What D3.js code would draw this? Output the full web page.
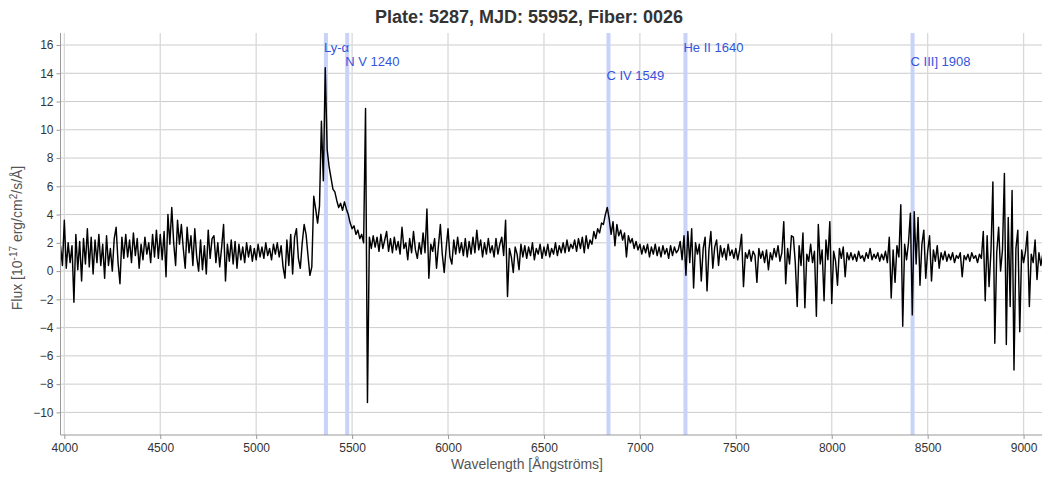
<!DOCTYPE html>
<html><head><meta charset="utf-8">
<script src="https://cdn.jsdelivr.net/npm/d3@7"></script>
<style>
body{margin:0;background:#fff}
text{font-family:"Liberation Sans",Arial,sans-serif}
</style>
</head><body>
<svg id="chart" width="1042" height="479"></svg>
<script>
const titleText = "Plate: 5287, MJD: 55952, Fiber: 0026";
const xTitle = "Wavelength [Ångströms]";
const waveStart = 3980;
const waveStep = 10;
const flux = [
  1.8, 0.4,
  3.6, 0.2, 2.0, 0.6, 1.8, -2.2, 2.6, 0.1, 2.1, -0.7,
  2.3, 0.5, 3.0, 0.3, 2.4, -0.2, 2.2, 0.6, 2.6, 0.4,
  1.9, -0.5, 2.5, 0.4, 1.6, 0.0, 2.3, 3.1, 0.6, -0.9,
  2.4, 0.9, 2.6, 1.0, 2.2, 0.6, 2.7, 1.1, 2.3, 0.2,
  1.9, 0.8, 2.4, 1.2, 2.0, 0.6, 2.6, 1.0, 2.9, 0.9,
  2.6, 0.8, 2.8, -0.4, 4.0, 1.9, 4.5, 2.0, 0.4, 3.6,
  1.9, 3.3, 1.6, 0.2, 3.1, 1.3, 2.5, 0.4, 3.0, 1.0,
  0.0, 2.2, 0.1, 1.8, -0.2, 2.9, 0.9, 2.3, 2.5, 0.6,
  2.0, 0.3, 1.7, 3.3, -0.7, 1.9, 0.7, 2.2, 0.5, 2.1,
  0.2, 1.9, 0.8, 1.7, 0.6, 2.0, 1.0, 1.8, 0.7, 1.6,
  0.8, 1.9, 1.0, 1.7, 0.9, 2.0, 1.1, 1.6, 0.8, 1.9,
  1.2, 2.0, 1.0, 1.8, 0.3, -0.5, 2.2, 0.4, 2.6, -0.2,
  2.4, 3.0, 0.9, 0.2, 2.0, 3.3, 2.6, 1.1, -0.3, 0.3,
  5.3, 4.4, 3.4, 4.6, 10.6, 6.4, 14.4, 8.6, 7.4, 6.6,
  5.8, 5.6, 5.0, 4.5, 4.8, 4.3, 4.9, 4.4, 4.0, 3.4,
  3.0, 3.2, 2.6, 2.9, 2.3, 2.6, 2.0, 11.5, -9.3, 2.4,
  1.6, 2.5, 1.7, 2.4, 1.4, 2.6, 1.6, 2.2, 2.8, 1.4,
  2.3, 1.3, 2.4, 1.5, 2.1, 1.2, 3.1, 1.6, 2.0, 0.8,
  2.3, 1.3, 2.8, 1.5, 0.9, 2.0, 1.2, 2.7, 1.3, 4.4,
  -0.5, 1.9, 1.4, 2.3, 0.2, 1.8, 3.3, 1.2, -0.1, 1.6,
  3.0, 1.0, 0.5, 2.2, 1.2, 2.4, 1.3, 2.0, 1.1, 2.3,
  1.0, 2.1, 1.2, 2.4, 1.3, 2.9, 1.5, 2.2, 1.0, 2.0,
  1.2, 2.3, 1.3, 1.8, 1.0, 2.3, 1.2, 1.9, 2.4, 1.1,
  3.6, -1.8, 1.6, 1.0, -0.1, 1.7, 1.2, 0.1, 1.9, 1.0,
  1.8, 0.9, 1.7, 1.1, 2.0, 0.8, 1.6, 1.2, 1.9, 0.9,
  1.7, 1.1, 1.9, 1.0, 1.6, 1.2, 2.0, 1.1, 1.8, 1.3,
  2.0, 1.3, 2.2, 1.4, 1.9, 1.6, 2.2, 1.4, 2.3, 1.6,
  2.4, 1.3, 2.5, 1.6, 2.2, 1.9, 2.8, 2.3, 3.0, 2.7,
  3.4, 3.3, 4.0, 4.5, 3.7, 2.6, 3.5, 1.8, 3.3, 2.5,
  2.9, 2.2, 2.7, 1.0, 2.5, 2.0, 2.3, 1.6, 2.1, 1.5,
  1.9, 1.2, 1.8, 1.3, 1.9, 1.0, 1.7, 1.2, 1.9, 1.1,
  1.7, 1.0, 1.8, 1.2, 1.6, 0.9, 1.8, 1.1, 1.7, 1.3,
  1.5, 2.1, 0.8, 2.5, -0.3, 2.8, 0.6, 3.0, -1.2, 2.0,
  1.2, 1.9, -0.7, 1.6, 2.4, -1.4, 1.5, 2.8, 0.2, 1.7,
  2.2, 0.4, 1.8, 1.0, 1.6, 0.8, 1.9, 1.1, 1.5, 0.9,
  1.6, 0.8, 1.5, 2.6, -1.1, 1.3, 0.9, 1.5, 0.7, 1.4,
  1.1, -0.8, 1.6, 0.9, 1.4, 0.6, 1.5, 0.1, 1.3, 0.8,
  1.6, 1.0, 1.8, 0.7, 1.3, 3.5, -0.9, 1.6, 0.5, 2.5,
  2.4, 0.6, -2.5, 1.8, 0.4, 2.7, -2.6, 1.2, 0.7, 1.9,
  0.6, 1.4, -3.2, 3.3, 0.5, 1.5, -2.1, 2.2, 0.8, 3.5,
  -2.3, 1.4, 0.7, -1.0, 1.6, 0.9, 1.7, -0.4, 1.3, 0.8,
  1.3, 0.8, 1.2, 0.7, 1.4, 0.9, 1.1, 0.7, 1.3, 0.9,
  1.6, 0.8, 1.2, 0.9, 1.3, 0.7, 1.2, 0.8, 1.4, 0.6,
  2.4, -1.9, 1.5, -0.8, 1.8, 1.0, 4.7, -3.9, 1.9, 0.8,
  2.0, 4.1, -3.1, 4.2, 0.5, 3.8, -1.0, 1.9, 2.9, -0.5,
  1.4, 2.5, -0.7, 1.5, 0.7, 1.8, 0.2, 1.3, 0.8, 1.4,
  0.7, 1.2, 0.8, 1.3, 0.6, 1.1, 0.9, 1.3, -0.4, 1.1,
  0.8, 1.2, 0.7, 1.3, 0.9, 1.1, 0.6, 1.2, 0.9, 2.8,
  -2.1, 2.5, -1.1, 1.4, 6.3, -5.1, 1.3, 3.1, 0.0, 1.5,
  6.9, -5.2, 3.8, -2.5, 5.7, -7.0, 1.6, 2.9, -4.3, 1.5,
  0.6, 1.4, 2.8, -2.5, 1.2, 0.6, 2.2, -0.6, 1.3, 0.4,
  1.2, 0.7
];
const lineNames = ["Ly-α", "N V 1240", "C IV 1549", "He II 1640", "C III] 1908"];
const lineRest = [1215.67, 1240.81, 1549.48, 1640.42, 1908.73];
const lineLevel = [0, 1, 2, 0, 1];
const redshift = 3.412;
const xTicks = [4000, 4500, 5000, 5500, 6000, 6500, 7000, 7500, 8000, 8500, 9000];
const yTicks = [-10, -8, -6, -4, -2, 0, 2, 4, 6, 8, 10, 12, 14, 16];

const W = 1042, H = 479;
const plot = {left: 60.5, right: 1042, top: 33, bottom: 435};
const svg = d3.select("#chart");
const x = d3.scaleLinear().domain([3980, 9096]).range([plot.left, plot.right]);
const y = d3.scaleLinear().domain([-11.6, 16.85]).range([plot.bottom, plot.top]);

svg.append("rect").attr("width", W).attr("height", H).attr("fill", "#fff");

// grid
svg.append("g").selectAll("line").data(yTicks).join("line")
  .attr("x1", plot.left).attr("x2", plot.right)
  .attr("y1", d => y(d)).attr("y2", d => y(d))
  .attr("stroke", "#cccccc").attr("stroke-width", 1);
svg.append("g").selectAll("line").data(xTicks).join("line")
  .attr("x1", d => x(d)).attr("x2", d => x(d))
  .attr("y1", plot.top).attr("y2", plot.bottom)
  .attr("stroke", "#d9d9d9").attr("stroke-width", 1.3);

// emission line bands
const lines = lineNames.map((n, i) => ({name: n, wave: lineRest[i] * (1 + redshift), level: lineLevel[i]}));
svg.append("g").selectAll("line").data(lines).join("line")
  .attr("x1", d => x(d.wave)).attr("x2", d => x(d.wave))
  .attr("y1", plot.top).attr("y2", plot.bottom)
  .attr("stroke", "#c9d2f8").attr("stroke-width", 4);

// spectrum
const data = flux.map((f, i) => ({w: waveStart + i * waveStep, f}));
svg.append("clipPath").attr("id", "clip").append("rect")
  .attr("x", plot.left).attr("y", plot.top)
  .attr("width", plot.right - plot.left).attr("height", plot.bottom - plot.top);
svg.append("path").datum(data)
  .attr("clip-path", "url(#clip)")
  .attr("fill", "none").attr("stroke", "#000").attr("stroke-width", 1.45)
  .attr("stroke-linejoin", "round")
  .attr("d", d3.line().x(d => x(d.w)).y(d => y(d.f)));

// line labels
svg.append("g").selectAll("text").data(lines).join("text")
  .attr("x", d => x(d.wave) - 2).attr("y", d => 51.7 + d.level * 14)
  .attr("fill", "#3355dd").attr("font-size", 13)
  .text(d => d.name);

// axes
const yAxis = d3.axisLeft(y).tickValues(yTicks).tickSize(4).tickPadding(3);
const gy = svg.append("g").attr("transform", `translate(${plot.left},0)`).call(yAxis);
gy.select(".domain").attr("stroke", "#999").attr("d", `M0,${plot.top}V${plot.bottom}`);
gy.selectAll(".tick line").attr("stroke", "#999");
gy.selectAll(".tick text").attr("fill", "#333").attr("font-size", 12)
  .style("font-family", '"Liberation Sans",Arial,sans-serif');

const xAxis = d3.axisBottom(x).tickValues(xTicks).tickSize(4).tickPadding(4).tickFormat(d3.format("d"));
const gx = svg.append("g").attr("transform", `translate(0,${plot.bottom})`).call(xAxis);
gx.select(".domain").attr("stroke", "#999").attr("d", `M${plot.left},0H${plot.right}`);
gx.selectAll(".tick line").attr("stroke", "#999");
gx.selectAll(".tick text").attr("fill", "#333").attr("font-size", 12)
  .style("font-family", '"Liberation Sans",Arial,sans-serif');

// titles
svg.append("text").attr("x", 529).attr("y", 23).attr("text-anchor", "middle")
  .attr("font-size", 18).attr("font-weight", "bold").attr("fill", "#333").text(titleText);
svg.append("text").attr("x", 527).attr("y", 469).attr("text-anchor", "middle")
  .attr("font-size", 14).attr("fill", "#555").text(xTitle);
const yt = svg.append("text").attr("transform", "translate(22,238) rotate(-90)")
  .attr("text-anchor", "middle").attr("font-size", 14).attr("fill", "#555");
yt.append("tspan").text("Flux [10");
yt.append("tspan").attr("font-size", 10).attr("dy", -5).text("-17");
yt.append("tspan").attr("dy", 5).text(" erg/cm");
yt.append("tspan").attr("font-size", 10).attr("dy", -5).text("2");
yt.append("tspan").attr("dy", 5).text("/s/Å]");
</script>
</body></html>
